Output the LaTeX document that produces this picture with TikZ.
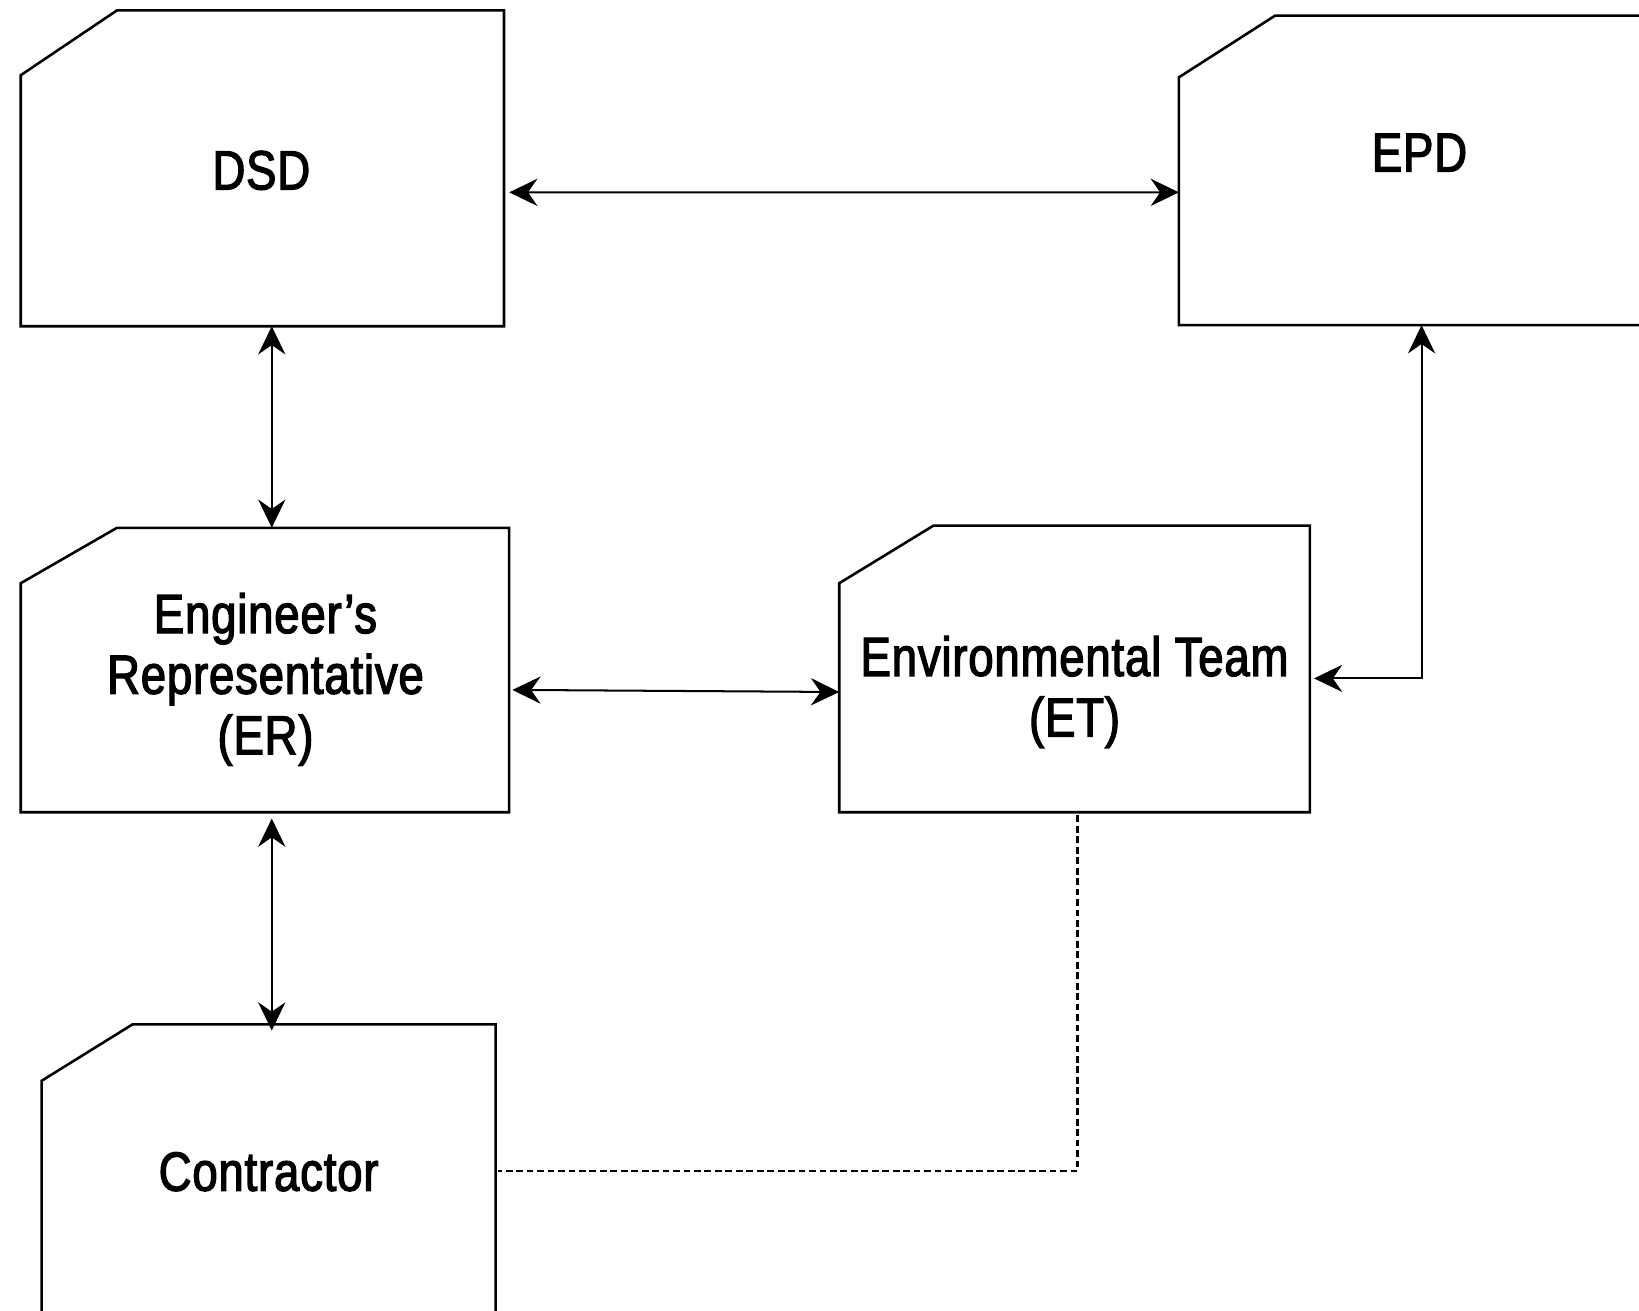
\documentclass[tikz,border=0pt]{standalone}
\usepackage{fontspec}
\setmainfont{Liberation Sans}[FakeStretch=0.825,FakeBold=2.3,LetterSpace=1.5]
\usetikzlibrary{arrows.meta}
\newcommand{\boxfont}{\fontsize{15pt}{16.5pt}\selectfont}
\tikzset{
  box/.style={draw=none, inner sep=0pt, outer sep=0pt},
  outline/.style={line width=0.7pt, line join=miter},
  lbl/.style={font=\boxfont, align=center, inner sep=0pt},
  dbl/.style={line width=0.55pt, {Stealth[length=0.27cm,width=0.26cm,inset=0.09cm]}-{Stealth[length=0.27cm,width=0.26cm,inset=0.09cm]}},
  dsh/.style={line width=0.65pt, dash pattern=on 0.065cm off 0.035cm}
}
\begin{document}
\begin{tikzpicture}[x=0.01cm,y=-0.01cm]
\useasboundingbox (0,0) rectangle (1568,1254);
\clip (0,0) rectangle (1568,1254);
% boxes
\node[box, minimum width=4.62cm, minimum height=3.02cm] (dsd) at (251,161) {};
\node[box, minimum width=4.60cm, minimum height=2.96cm] (epd) at (1358,163) {};
\node[box, minimum width=4.67cm, minimum height=2.72cm] (er) at (253.5,641) {};
\node[box, minimum width=4.50cm, minimum height=2.74cm] (et) at (1028,640) {};
\node[box, minimum width=4.34cm, minimum height=3.00cm] (con) at (257,1130) {};
\foreach \n/\cx/\cy in {dsd/0.92/0.62, epd/0.92/0.59, er/0.92/0.53, et/0.90/0.55, con/0.87/0.54}
  \draw[outline] ([yshift=-\cy cm]\n.north west) -- ([xshift=\cx cm]\n.north west)
     -- (\n.north east) -- (\n.south east) -- (\n.south west) -- cycle;
% texts
\node[lbl] (dsdT) at (250,163) {DSD};
\node[lbl] (epdT) at (1358,146) {EPD};
\node[lbl] (erT) at (254,650) {Engineer’s\\Representative\\(ER)};
\node[lbl] (etT) at (1028,662) {Environmental Team\\(ET)};
\node[lbl] (conT) at (257,1121) {Contractor};
% connectors
\draw[dbl] ([xshift=0.05cm,yshift=-0.23cm]dsd.east) -- ([yshift=-0.21cm]epd.west);
\draw[dbl] ([xshift=0.09cm]dsd.south) -- ([xshift=0.09cm]dsd.south |- er.north);
\draw[dbl] ([xshift=0.03cm,yshift=-0.19cm]er.east) -- ([yshift=-0.22cm]et.west);
\draw[dbl] ([xshift=0.065cm,yshift=-0.06cm]er.south) -- ([xshift=0.065cm,yshift=-0.06cm]er.south |- con.north);
\draw[dbl] ([xshift=0.02cm]epd.south) |- ([xshift=0.04cm,yshift=-0.09cm]et.east);
\draw[dsh] ([xshift=0.03cm,yshift=-0.03cm]et.south) |- ([xshift=0.02cm,yshift=0.10cm]con.east);
\end{tikzpicture}
\end{document}
